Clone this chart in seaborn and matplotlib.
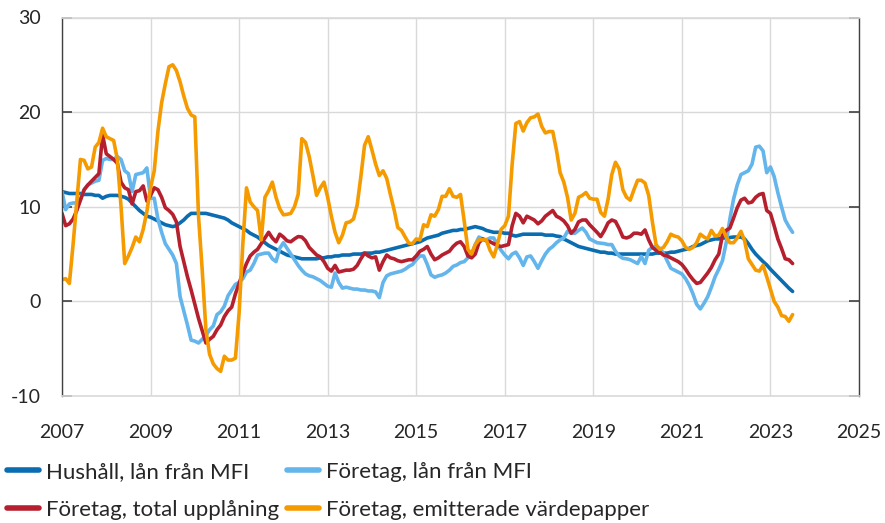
import pandas as pd
import matplotlib
matplotlib.use("Agg")
import matplotlib.pyplot as plt
import seaborn as sns

# Monthly annual growth rates (percent), Jan 2007 - Jul 2023
hushall_mfi = [
    11.6, 11.5, 11.4, 11.4, 11.4, 11.4, 11.3, 11.3, 11.3, 11.2, 11.2, 10.9,  # 2007
    11.1, 11.2, 11.2, 11.2, 11.1, 11.0, 10.8, 10.4, 10.0, 9.6, 9.3, 9.0,    # 2008
    8.9, 8.7, 8.5, 8.3, 8.1, 8.0, 7.9, 8.0, 8.3, 8.6, 9.0, 9.3,             # 2009
    9.3, 9.3, 9.3, 9.3, 9.2, 9.1, 9.0, 8.9, 8.8, 8.6, 8.3, 8.1,             # 2010
    7.9, 7.7, 7.5, 7.2, 7.0, 6.8, 6.5, 6.2, 5.9, 5.7, 5.5, 5.3,             # 2011
    5.1, 4.9, 4.8, 4.7, 4.6, 4.5, 4.5, 4.5, 4.5, 4.5, 4.6, 4.6,             # 2012
    4.7, 4.7, 4.8, 4.8, 4.9, 4.9, 4.9, 5.0, 5.0, 5.0, 5.1, 5.1,             # 2013
    5.1, 5.2, 5.2, 5.3, 5.4, 5.5, 5.6, 5.7, 5.8, 5.9, 6.0, 6.1,             # 2014
    6.2, 6.3, 6.5, 6.7, 6.8, 6.9, 7.0, 7.2, 7.3, 7.4, 7.5, 7.5,             # 2015
    7.6, 7.6, 7.7, 7.8, 7.9, 7.8, 7.7, 7.5, 7.4, 7.3, 7.3, 7.3,             # 2016
    7.2, 7.2, 7.0, 6.9, 7.0, 7.1, 7.1, 7.1, 7.1, 7.1, 7.1, 7.0,             # 2017
    7.0, 7.0, 6.9, 6.85, 6.6, 6.4, 6.2, 6.0, 5.8, 5.7, 5.6, 5.5,            # 2018
    5.4, 5.3, 5.2, 5.2, 5.1, 5.1, 5.0, 5.0, 5.0, 5.0, 5.0, 5.0,             # 2019
    5.0, 5.0, 5.0, 5.0, 5.0, 5.1, 5.1, 5.1, 5.1, 5.2, 5.2, 5.3,             # 2020
    5.4, 5.5, 5.6, 5.8, 5.9, 6.0, 6.2, 6.4, 6.5, 6.6, 6.6, 6.7,             # 2021
    6.7, 6.75, 6.8, 6.8, 6.8, 6.6, 6.1, 5.5, 5.0, 4.6, 4.2, 3.85,           # 2022
    3.4, 3.0, 2.6, 2.2, 1.8, 1.4, 1.05,                                     # 2023
]

foretag_mfi = [
    11.6, 9.7, 10.3, 10.4, 10.4, 10.8, 11.8, 12.3, 12.5, 12.7, 12.8, 14.9,
    15.1, 15.0, 15.0, 15.3, 15.0, 13.8, 13.5, 11.6, 13.4, 13.5, 13.6, 14.1,
    10.9, 10.9, 8.7, 7.3, 6.1, 5.5, 4.9, 4.0, 0.5, -1.0, -2.5, -4.1,
    -4.2, -4.4, -4.0, -3.6, -3.0, -2.6, -1.4, -1.1, -0.5, 0.6, 1.2, 1.8,
    2.0, 2.4, 3.1, 3.3, 4.0, 4.9, 5.0, 5.1, 5.1, 4.5, 4.2, 5.6,
    6.2, 5.6, 5.0, 4.4, 3.8, 3.3, 2.9, 2.7, 2.6, 2.4, 2.2, 1.9,
    1.6, 1.5, 3.0, 2.0, 1.4, 1.5, 1.4, 1.3, 1.3, 1.2, 1.2, 1.1,
    1.1, 1.0, 0.4, 2.0, 2.7, 2.9, 3.0, 3.1, 3.2, 3.4, 3.7, 3.9,
    4.4, 4.8, 4.8, 3.9, 2.8, 2.55, 2.7, 2.8, 3.0, 3.3, 3.7, 3.85,
    4.1, 4.2, 4.6, 5.0, 6.0, 6.8, 6.6, 6.5, 6.7, 6.7, 6.0, 5.4,
    4.9, 4.5, 5.0, 5.2, 4.6, 3.8, 4.7, 4.8, 4.2, 3.5, 4.3, 5.0,
    5.5, 5.8, 6.2, 6.5, 6.7, 7.4, 7.2, 7.2, 7.5, 7.75, 7.3, 6.6,
    6.4, 6.2, 6.15, 6.1, 6.0, 6.0, 5.3, 4.8, 4.55, 4.5, 4.4, 4.2,
    4.0, 4.75, 4.0, 5.4, 5.7, 5.8, 5.6, 5.1, 4.3, 3.5, 3.3, 3.1,
    2.9, 2.4, 1.7, 0.8, -0.3, -0.8, -0.2, 0.5, 1.5, 2.6, 3.4, 4.3,
    6.2, 8.7, 10.8, 12.3, 13.4, 13.6, 13.8, 14.5, 16.3, 16.4, 15.9, 13.6,
    14.2, 13.2, 11.5, 10.0, 8.6, 7.9, 7.3,
]

foretag_total = [
    9.3, 8.0, 8.2, 8.7, 9.6, 10.7, 11.8, 12.3, 12.7, 13.1, 13.5, 17.6,
    15.6, 15.3, 15.0, 14.6, 12.6, 12.0, 11.8, 10.3, 11.6, 11.7, 12.2, 10.6,
    11.2, 12.0, 11.8, 11.0, 9.9, 9.6, 9.2, 8.4, 5.8, 4.2, 2.6, 1.2,
    -0.3, -1.8, -3.1, -4.4, -4.0, -3.7, -3.0, -2.5, -1.6, -1.0, -0.6, 0.8,
    1.9, 3.0, 4.0, 4.8, 5.2, 5.5, 6.1, 6.7, 7.3, 6.7, 6.3, 7.1,
    6.8, 6.4, 6.3, 6.6, 6.85, 6.8, 6.4, 5.7, 5.3, 4.9, 4.7, 4.2,
    3.5, 3.2, 3.8, 3.1, 3.2, 3.3, 3.3, 3.4, 3.8, 4.5, 5.1, 4.8,
    4.6, 4.7, 3.3, 4.2, 4.9, 4.6, 4.5, 4.3, 4.2, 4.3, 4.4, 4.4,
    4.8, 5.3, 5.5, 5.8, 5.0, 4.4, 4.6, 4.9, 5.1, 5.3, 5.8, 6.15,
    6.3, 5.8, 4.8, 4.6, 5.0, 6.2, 6.6, 6.4, 6.3, 6.1, 5.9, 5.8,
    5.9, 6.0, 8.0, 9.3, 9.0, 8.3, 9.0, 8.8, 8.6, 8.2, 8.5, 9.0,
    9.3, 9.6, 9.0, 8.8, 8.5, 8.0, 7.2, 7.6, 8.4, 8.6, 8.6, 8.1,
    7.7, 7.3, 6.85, 7.5, 8.3, 8.6, 8.45, 7.7, 6.8, 6.7, 6.85, 7.2,
    7.2, 7.1, 7.55, 6.5, 5.7, 5.4, 5.2, 4.9, 4.8, 4.6, 4.4, 4.2,
    3.9, 3.4, 2.8, 2.3, 1.9, 2.0, 2.5, 3.0, 3.6, 4.4, 5.0, 7.0,
    7.5, 7.75, 8.8, 9.9, 10.7, 10.9, 10.4, 10.5, 11.0, 11.3, 11.4, 9.6,
    9.3, 8.0, 6.6, 5.6, 4.5, 4.4, 4.0,
]

foretag_vp = [
    2.3, 2.4, 1.9, 6.0, 10.5, 15.0, 14.9, 14.0, 14.2, 16.3, 16.8, 18.3,
    17.4, 17.2, 17.0, 15.0, 10.0, 4.0, 4.8, 5.7, 6.8, 6.3, 7.6, 9.5,
    12.0, 13.8, 18.0, 21.0, 23.0, 24.8, 25.0, 24.4, 23.2, 21.7, 20.4, 19.7,
    19.5, 9.0, 3.3, -3.0, -5.6, -6.6, -7.1, -7.4, -5.8, -6.2, -6.2, -6.0,
    -1.2, 6.0, 12.0, 10.5, 10.0, 9.6, 6.5, 11.0, 11.7, 12.6, 11.0, 9.8,
    9.15, 9.2, 9.3, 10.0, 11.3, 17.2, 16.8, 15.3, 13.3, 11.2, 12.0, 12.6,
    11.0, 9.0, 7.3, 6.2, 7.0, 8.3, 8.4, 8.7, 10.2, 13.2, 16.5, 17.4,
    16.0, 14.5, 13.3, 13.8, 13.0, 11.3, 9.7, 7.8, 7.5, 6.8, 6.15, 6.1,
    6.6, 6.5, 8.1, 7.9, 9.15, 9.0, 9.7, 11.1, 11.1, 11.9, 11.1, 11.0,
    11.3, 8.5, 5.5, 5.0, 6.0, 6.5, 6.5, 6.5, 5.4, 4.7, 6.0, 7.6,
    8.0, 9.0, 14.5, 18.8, 19.0, 18.0, 18.9, 19.4, 19.5, 19.8, 18.5, 17.8,
    17.95, 17.95, 16.0, 13.6, 12.6, 11.0, 8.6, 9.3, 11.0, 11.2, 11.5, 10.9,
    10.8, 10.8, 9.4, 9.0, 10.8, 13.4, 14.7, 14.0, 11.8, 11.0, 10.7, 11.8,
    12.8, 12.8, 12.5, 11.2, 8.4, 6.0, 5.5, 5.7, 6.3, 7.1, 6.9, 6.8,
    6.4, 5.7, 5.5, 5.7, 6.2, 7.1, 6.8, 6.6, 7.5, 6.9, 7.0, 7.7,
    6.8, 6.2, 6.2, 6.7, 7.4, 6.4, 4.5, 3.9, 3.3, 3.2, 3.8, 2.6,
    1.3, 0.0, -0.6, -1.5, -1.6, -2.1, -1.4,
]

series_names = [
    "Hushåll, lån från MFI",
    "Företag, lån från MFI",
    "Företag, total upplåning",
    "Företag, emitterade värdepapper",
]
colors = ["#0a6cb1", "#63b5ec", "#b61f2d", "#f59b00"]
year_ticks = list(range(2007, 2026, 2))
y_ticks = [-10, 0, 10, 20, 30]


def build_frame():
    """Put the four monthly series in one long table with decimal years."""
    dates = pd.date_range("2007-01-01", periods=len(hushall_mfi), freq="MS")
    year = dates.year + (dates.month - 1) / 12
    wide = pd.DataFrame({
        "year": year,
        series_names[0]: hushall_mfi,
        series_names[1]: foretag_mfi,
        series_names[2]: foretag_total,
        series_names[3]: foretag_vp,
    })
    return wide.melt(id_vars="year", var_name="serie", value_name="procent")


def plot_growth(df):
    sns.set_style("white")
    plt.rcParams["font.family"] = ["Lato", "DejaVu Sans"]
    plt.rcParams["axes.unicode_minus"] = False

    fig = plt.figure(figsize=(8.85, 5.23), dpi=100)
    ax = fig.add_axes([62 / 885, 1 - 396 / 523, (859 - 62) / 885, (396 - 17.5) / 523])

    sns.lineplot(data=df, x="year", y="procent", hue="serie",
                 hue_order=series_names, palette=colors, estimator=None,
                 linewidth=2.6, legend=False, ax=ax)

    ax.set_xlim(2007, 2025)
    ax.set_ylim(-10, 30)
    ax.set_xticks(year_ticks)
    ax.set_yticks(y_ticks)
    ax.set_xlabel("")
    ax.set_ylabel("")

    ax.grid(True, color="#d9d9d9", linewidth=1)
    ax.set_axisbelow(True)
    for side in ["top", "bottom"]:
        ax.spines[side].set_color("#d9d9d9")
        ax.spines[side].set_linewidth(1.2)
    for side in ["left", "right"]:
        ax.spines[side].set_color("#404040")
        ax.spines[side].set_linewidth(1.0)

    ax.tick_params(axis="y", which="both", direction="in", length=7.5,
                   width=1.2, color="#404040", left=True, right=True,
                   labelright=False, labelsize=14, pad=15)
    ax.tick_params(axis="x", length=0, labelsize=14, pad=20)

    # legend is filled column by column, so reorder to get the row layout
    lines = ax.get_lines()[:4]
    order = [0, 2, 1, 3]
    leg = fig.legend([lines[i] for i in order], [series_names[i] for i in order],
                     loc="upper left", bbox_to_anchor=(7 / 885, 1 - 462 / 523),
                     ncol=2, frameon=False, fontsize=16, handlelength=1.45,
                     handletextpad=0.3, columnspacing=0.35, labelspacing=0.8,
                     borderpad=0, borderaxespad=0)
    for line in leg.get_lines():
        line.set_linewidth(4)

    fig.savefig("out.png", dpi=100)


if __name__ == "__main__":
    plot_growth(build_frame())
